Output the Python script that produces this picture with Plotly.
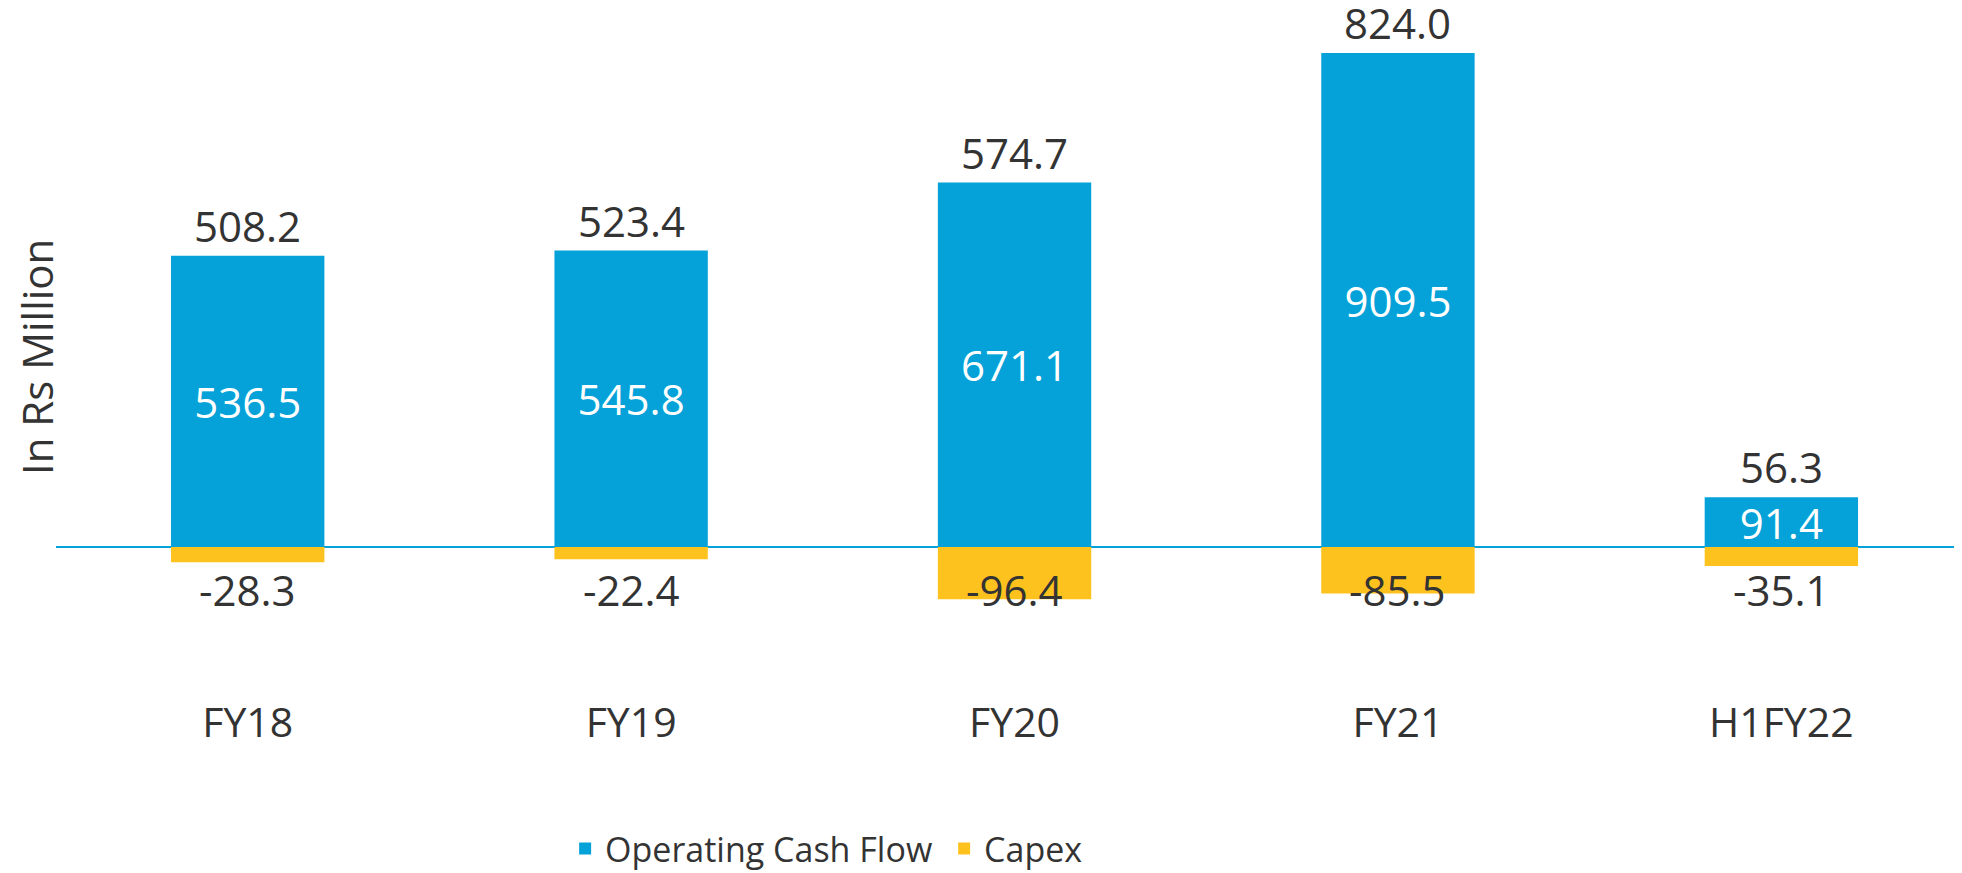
import plotly.graph_objects as go

categories = ["FY18", "FY19", "FY20", "FY21", "H1FY22"]
operating_cash_flow = [536.5, 545.8, 671.1, 909.5, 91.4]
capex = [-28.3, -22.4, -96.4, -85.5, -35.1]
net_labels = [508.2, 523.4, 574.7, 824.0, 56.3]

BLUE = "#04A2D8"
YELLOW = "#FEC21E"
TEXT = "#333333"
FONT = "Open Sans"
CAPEX_LABEL_Y = -79

fig = go.Figure()
fig.add_trace(go.Bar(
    name="Operating Cash Flow",
    x=categories,
    y=operating_cash_flow,
    width=0.4,
    marker=dict(color=BLUE, line=dict(width=0)),
    text=[f"{v:.1f}" for v in operating_cash_flow],
    textposition="inside",
    insidetextanchor="middle",
    constraintext="none",
    textfont=dict(family=FONT, size=42, color="white"),
))
fig.add_trace(go.Bar(
    name="Capex",
    x=categories,
    y=capex,
    width=0.4,
    marker=dict(color=YELLOW, line=dict(width=0)),
))

# labels above the blue bars and under the capex bars
for cat, top, lab, cap in zip(categories, operating_cash_flow, net_labels, capex):
    fig.add_annotation(x=cat, y=top, text=f"{lab:.1f}", showarrow=False,
                       yanchor="bottom", yshift=0,
                       font=dict(family=FONT, size=42, color=TEXT))
    fig.add_annotation(x=cat, y=CAPEX_LABEL_Y, text=f"{cap:.1f}", showarrow=False,
                       yanchor="middle",
                       font=dict(family=FONT, size=42, color=TEXT))

fig.add_annotation(xref="paper", yref="paper", x=-0.0105, y=0.488,
                   text="In Rs Million", textangle=-90, showarrow=False,
                   xanchor="center", yanchor="middle",
                   font=dict(family=FONT, size=42, color=TEXT))

fig.update_layout(
    width=1962, height=873,
    barmode="relative",
    plot_bgcolor="white", paper_bgcolor="white",
    margin=dict(l=48, r=0, t=0, b=191),
    font=dict(family=FONT, color=TEXT),
    xaxis=dict(range=[-0.5, 4.492], showgrid=False, showline=False, ticks="",
               zeroline=False, ticklabelstandoff=5,
               tickfont=dict(size=41, color=TEXT)),
    yaxis=dict(range=[-263.4, 992.6], showgrid=False, showticklabels=False,
               zeroline=True, zerolinecolor=BLUE, zerolinewidth=2),
    legend=dict(orientation="h", x=0.266, xanchor="left", y=-0.233, yanchor="middle",
                font=dict(size=34, color=TEXT), entrywidth=334, traceorder="normal"),
)

fig.write_html("out.html")
